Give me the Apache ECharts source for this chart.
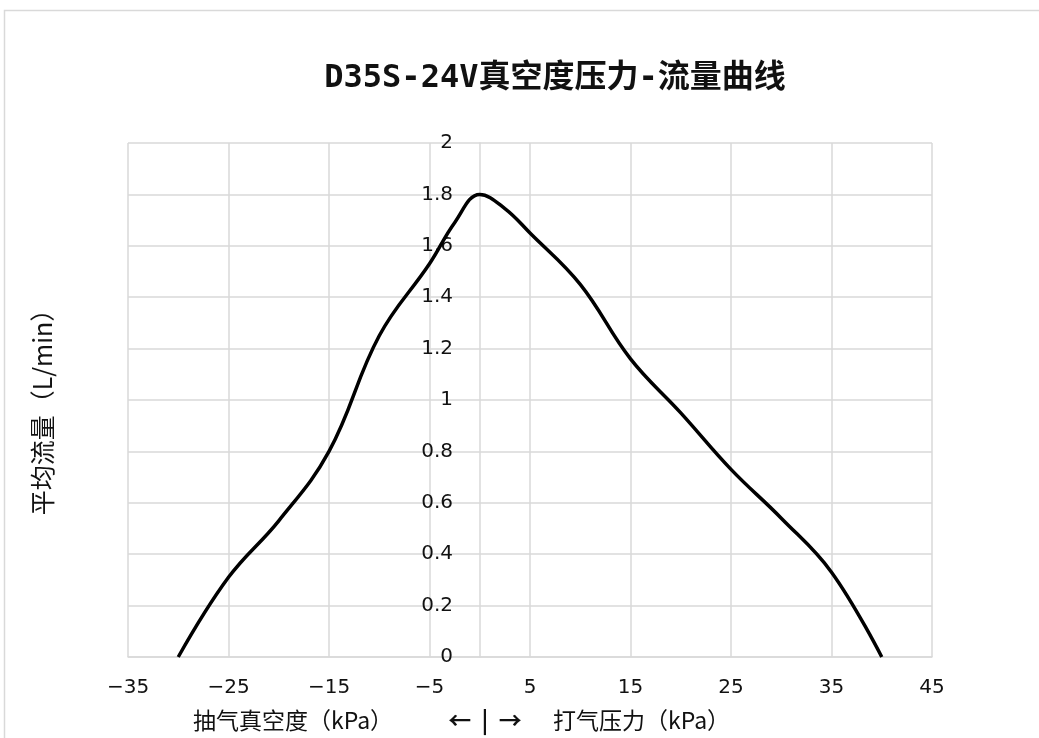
<!DOCTYPE html>
<html>
<head>
<meta charset="utf-8">
<script src="https://cdn.jsdelivr.net/npm/echarts@6/dist/echarts.min.js"></script>
<style>
  html, body { margin: 0; padding: 0; background: #fff; }
  #main { width: 1039px; height: 738px; }
</style>
</head>
<body>
<div id="main"></div>
<script>
// 压力 (kPa)，负值为抽气真空度，正值为打气压力
var pressure = [-30, -25, -20, -15, -10, -5, -2.5, 0, 2.5, 5, 10, 15, 20, 25, 30, 35, 40];
// 平均流量 (L/min)
var flow = [0, 0.31, 0.53, 0.8, 1.25, 1.53, 1.69, 1.8, 1.745, 1.65, 1.45, 1.16, 0.95, 0.73, 0.54, 0.33, 0];

var titleText = 'D35S-24V真空度压力-流量曲线';
var xNameLeft = '抽气真空度（kPa）';
var xNameMid = '←  |  →';
var xNameRight = '打气压力（kPa）';
var yName = '平均流量（L/min）';

var points = pressure.map(function(p, i) {
    return [p, flow[i]];
});

var labelFont = 'DejaVu Sans, sans-serif';
var cjkFont = 'Noto Sans CJK SC, sans-serif';
var gridColor = '#d9d9d9';

var chart = echarts.init(document.getElementById('main'));
var option = {
    backgroundColor: '#fff',
    animation: false,
    title: {
        text: titleText,
        left: 550,
        top: 58,
        textAlign: 'center',
        textStyle: {
            fontFamily: 'DejaVu Sans Mono, Noto Sans CJK SC, monospace',
            fontSize: 32,
            fontWeight: 'bold',
            color: '#111'
        }
    },
    grid: {
        left: 128,
        right: 107,
        top: 143,
        bottom: 81
    },
    xAxis: {
        type: 'value',
        min: -35,
        max: 45,
        interval: 10,
        axisLine: { show: true, onZero: false, lineStyle: { color: gridColor, width: 1.5 } },
        axisTick: { show: false },
        splitLine: { show: true, lineStyle: { color: gridColor, width: 1.5 } },
        axisLabel: {
            margin: 21,
            fontSize: 20,
            fontFamily: labelFont,
            color: '#111',
            formatter: function(v) { return String(v).replace('-', '\u2212'); }
        }
    },
    yAxis: {
        type: 'value',
        min: 0,
        max: 2,
        interval: 0.2,
        // y轴放在 x=0 的位置
        offset: -352,
        axisLine: { show: true, onZero: false, lineStyle: { color: gridColor, width: 1.5 } },
        axisTick: { show: false },
        splitLine: { show: true, lineStyle: { color: gridColor, width: 1.5 } },
        axisLabel: {
            margin: 27,
            fontSize: 20,
            fontFamily: labelFont,
            color: '#111',
            formatter: function(v) { return String(+v.toFixed(1)); }
        }
    },
    graphic: [
        {
            type: 'rect',
            silent: true,
            shape: { x: 4.5, y: 10.5, width: 1100, height: 800 },
            style: { fill: 'none', stroke: gridColor, lineWidth: 1.5 }
        },
        {
            type: 'text',
            x: 193,
            y: 720,
            style: {
                text: xNameLeft,
                fontSize: 23,
                fontFamily: cjkFont,
                fill: '#111',
                verticalAlign: 'middle'
            }
        },
        {
            type: 'text',
            x: 485,
            y: 720,
            style: {
                text: xNameMid,
                fontSize: 23,
                fontWeight: 'bold',
                fontFamily: cjkFont,
                fill: '#111',
                align: 'center',
                verticalAlign: 'middle'
            }
        },
        {
            type: 'text',
            x: 553,
            y: 720,
            style: {
                text: xNameRight,
                fontSize: 23,
                fontFamily: cjkFont,
                fill: '#111',
                verticalAlign: 'middle'
            }
        },
        {
            type: 'text',
            x: 42,
            y: 406,
            rotation: Math.PI / 2,
            style: {
                text: yName,
                fontSize: 25,
                fontFamily: cjkFont,
                fill: '#111',
                align: 'center',
                verticalAlign: 'middle'
            }
        }
    ],
    series: [{
        type: 'line',
        data: points,
        smooth: 0.4,
        showSymbol: false,
        lineStyle: { color: '#000', width: 3.5 },
        z: 5
    }]
};
chart.setOption(option);
</script>
</body>
</html>
